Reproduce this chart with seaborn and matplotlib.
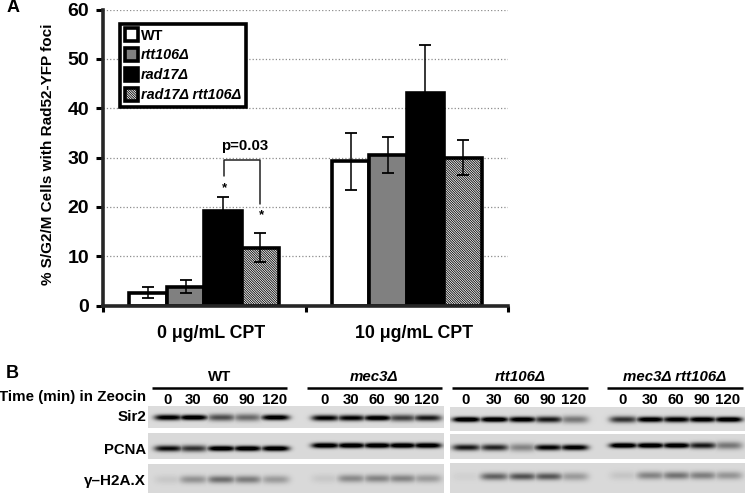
import numpy as np
import pandas as pd
import seaborn as sns
import matplotlib.pyplot as plt
from matplotlib.transforms import ScaledTranslation

# 막대 그래프 데이터
treatments = ['0 \u03bcg/mL CPT', '10 \u03bcg/mL CPT']
strains = ['WT', 'rtt106\u0394', 'rad17\u0394', 'rad17\u0394 rtt106\u0394']
pct_0 = [2.6, 3.8, 19.1, 11.7]
pct_10 = [29.2, 30.5, 43.0, 30.0]
err_0 = [1.1, 1.3, 2.8, 2.9]
err_10 = [5.8, 3.6, 9.8, 3.5]
bar_colors = ['white', '#808080', 'black', 'white']

# 블롯 밴드 세기 (레인 0, 30, 60, 90, 120)
lane_times = ['0', '30', '60', '90', '120']
blot_groups = ['WT', 'mec3\u0394', 'rtt106\u0394', 'mec3\u0394 rtt106\u0394']
blot_rows = ['Sir2', 'PCNA', '\u03b3\u2013H2A.X']
sir2_bands = [[.85, .95, .5, .4, .9], [.8, .8, .9, .55, .7], [1, 1, .9, .7, .35], [.6, .9, .85, .9, .95]]
pcna_bands = [[.75, .6, .95, .95, .95], [.95, .98, .98, .98, .95], [.7, .65, .3, .8, .85], [1, 1, .95, .7, .35]]
h2ax_bands = [[.06, .25, .38, .33, .22], [.06, .28, .3, .3, .22], [.03, .42, .48, .46, .22], [.07, .3, .36, .32, .24]]

# 블롯 위치 (픽셀)
lane_x = [[168, 193, 221, 247, 275], [325, 351, 377, 402, 427],
          [466, 494, 522, 548, 574], [623, 650, 676, 702, 728]]
row_y = [[417, 417.5, 419, 419], [448, 445, 447, 445], [479, 478, 476, 475]]
line_x = [(152, 287), (307, 442), (452, 588), (607, 743)]
left_rows = [(406, 428), (433, 459), (464, 493)]
right_rows = [(407, 431), (434, 459), (463, 493)]

sns.set_theme(style='ticks')
plt.rcParams['font.family'] = ['Liberation Sans', 'DejaVu Sans']
plt.rcParams['font.weight'] = 'bold'
plt.rcParams['axes.labelweight'] = 'bold'
plt.rcParams['text.color'] = 'black'
plt.rcParams['axes.labelcolor'] = 'black'
plt.rcParams['xtick.color'] = 'black'
plt.rcParams['ytick.color'] = 'black'
plt.rcParams['hatch.linewidth'] = 0.6

W, H = 745, 493
fig = plt.figure(figsize=(W / 100, H / 100), dpi=100, facecolor='white')
ax = fig.add_axes([103 / W, 1 - 305.5 / H, 405 / W, 296 / H])

df = pd.DataFrame({
    'cpt': [treatments[0]] * 4 + [treatments[1]] * 4,
    'strain': strains * 2,
    'pct': pct_0 + pct_10,
})
sns.barplot(data=df, x='cpt', y='pct', hue='strain', hue_order=strains, palette=bar_colors,
            width=0.74, gap=0, edgecolor='black', linewidth=2.6, errorbar=None, saturation=1, ax=ax)
bar_sets = list(ax.containers)

# 이중 변이주 막대 해치
hatch = '\\' * 14
for p in bar_sets[3]:
    p.set_hatch(hatch)

# 오차 막대
for i, cont in enumerate(bar_sets):
    xs = [p.get_x() + p.get_width() / 2 for p in cont]
    ax.errorbar(xs, [pct_0[i], pct_10[i]], yerr=[err_0[i], err_10[i]], fmt='none', ecolor='black',
                elinewidth=1.1, capsize=4.5, capthick=1.3, zorder=5)

ax.set_xlim(-0.5, 1.5)
ax.set_ylim(0, 60)
ax.set_yticks(range(0, 70, 10))
ax.set_axisbelow(True)
ax.grid(axis='y', color='#8c8c8c', linestyle=':', linewidth=0.9)
ax.grid(axis='x', visible=False)
ax.set_xlabel('')
ax.set_ylabel('% S/G2/M Cells with Rad52-YFP foci', fontsize=11)
ax.yaxis.set_label_coords(-0.118, 0.512)
sns.despine(ax=ax)
ax.spines['left'].set_linewidth(2.6)
ax.spines['bottom'].set_linewidth(2.6)
ax.tick_params(axis='y', length=5, width=2.2, labelsize=14, pad=5)
ax.tick_params(axis='x', which='major', length=0, labelsize=12.8, pad=14)
ax.set_xticks([-0.5, 0.5, 1.5], minor=True)
ax.tick_params(axis='x', which='minor', length=4, width=2.2)

# x축 글자는 막대 묶음보다 조금 오른쪽에 있다
shift = ScaledTranslation(7 / 100, 0, fig.dpi_scale_trans)
for lbl in ax.get_xticklabels():
    lbl.set_transform(lbl.get_transform() + shift)

# 범례
handles, labels = ax.get_legend_handles_labels()
handles[3].set_hatch(hatch)
leg = ax.legend(handles, labels, loc='upper left', bbox_to_anchor=(0.042, 0.952), borderaxespad=0,
                fontsize=10.4, frameon=True, fancybox=False, framealpha=1, edgecolor='black',
                handlelength=0.95, handleheight=0.95, handletextpad=0.2, labelspacing=0.4,
                borderpad=0.32)
leg.get_frame().set_linewidth(2.6)
for t in leg.get_texts()[1:]:
    t.set_fontstyle('italic')

# 픽셀 좌표 오버레이
ov = fig.add_axes([0, 0, 1, 1], facecolor='none')
ov.set_xlim(0, W)
ov.set_ylim(H, 0)
ov.axis('off')


def blot_strip(x0, x1, y0, y1, groups, bands, ys, base):
    # 밴드 세기 목록으로 회색 블롯 이미지를 만든다
    xx, yy = np.meshgrid(np.arange(x0, x1), np.arange(y0, y1))
    img = np.zeros(xx.shape)
    for g in groups:
        for cx, amp in zip(lane_x[g], bands[g]):
            prof_x = np.exp(-((xx - cx) / 14) ** 4)
            prof_y = np.exp(-((yy - ys[g]) / (2.6 + 2.0 * (1 - amp))) ** 2)
            img = np.maximum(img, 1.3 * amp * prof_x * prof_y)
    img = np.clip(img, 0, 1)
    ov.imshow(base * (1 - img), extent=(x0, x1, y1, y0), cmap='gray', vmin=0, vmax=1,
              aspect='auto', interpolation='bilinear', zorder=1)


all_bands = [sir2_bands, pcna_bands, h2ax_bands]
bases = [0.86, 0.85, 0.85]
for r in range(3):
    blot_strip(148, 444, left_rows[r][0], left_rows[r][1], [0, 1], all_bands[r], row_y[r], bases[r])
    blot_strip(450, 745, right_rows[r][0], right_rows[r][1], [2, 3], all_bands[r], row_y[r], bases[r])
ov.set_xlim(0, W)
ov.set_ylim(H, 0)

# 블롯 글자
for g, name in enumerate(blot_groups):
    ov.plot(line_x[g], [388, 388], color='black', lw=1.8, solid_capstyle='butt', zorder=2)
    style = 'normal' if g == 0 else 'italic'
    ov.text(sum(line_x[g]) / 2, 377, name, ha='center', va='center', fontsize=10.8, fontstyle=style)
    for x, lab in zip(lane_x[g], lane_times):
        ov.text(x, 400, lab, ha='center', va='center', fontsize=10.8)
ov.text(146, 397, 'Time (min) in Zeocin', ha='right', va='center', fontsize=10.9)
ov.text(146, 417, blot_rows[0], ha='right', va='center', fontsize=11)
ov.text(146, 450, blot_rows[1], ha='right', va='center', fontsize=10.7)
ov.text(146, 481, blot_rows[2], ha='right', va='center', fontsize=11)

# 패널 문자
ov.text(13, 7, 'A', ha='center', va='center', fontsize=13)
ov.text(12, 374, 'B', ha='center', va='center', fontsize=13)

# p값 괄호
ov.plot([224, 224, 260, 260], [176, 159.5, 159.5, 204], color='#222222', lw=1.1, zorder=6)
ov.text(245, 146, 'p=0.03', ha='center', va='center', fontsize=10.8)
ov.text(224, 188, '*', ha='center', va='center', fontsize=9.5)
ov.text(261, 215, '*', ha='center', va='center', fontsize=9.5)

fig.savefig('out.png', dpi=100)
